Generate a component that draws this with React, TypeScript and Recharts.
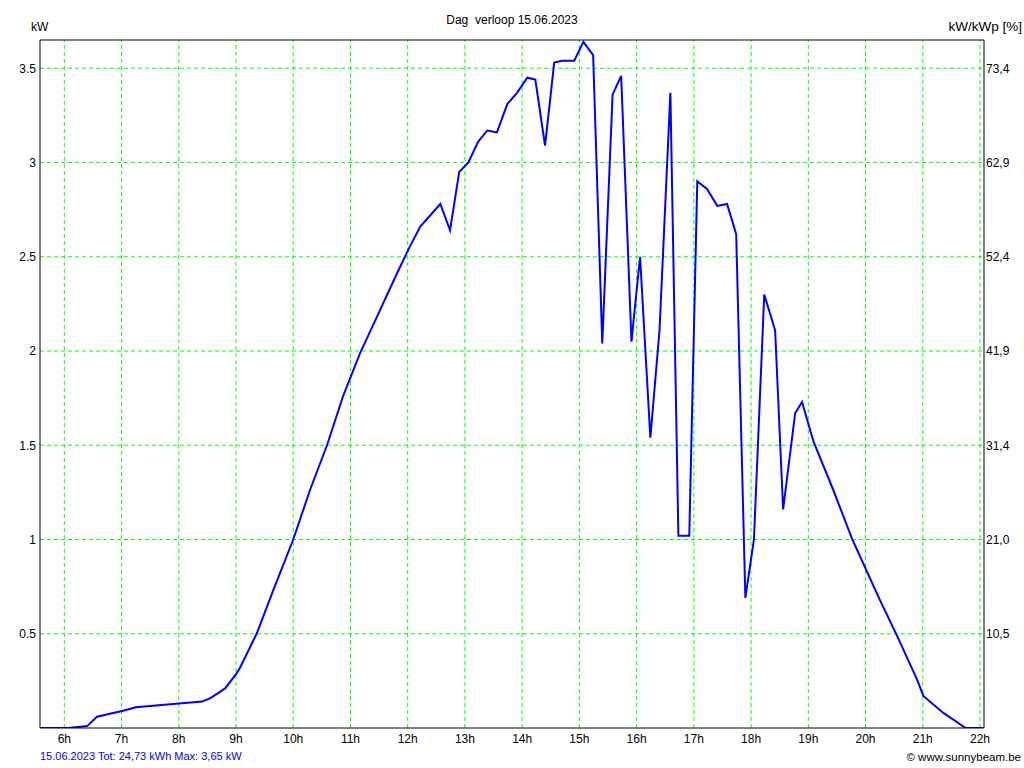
import { CartesianGrid, Line, LineChart, ReferenceLine, XAxis, YAxis } from "recharts";

// time of day in decimal hours, power in kW
const hours = [
  5.575, 6.07, 6.4, 6.57, 7.01, 7.25, 8.0, 8.41, 8.56, 8.81, 9.01, 9.07, 9.36, 9.65, 10.0, 10.29,
  10.59, 10.87, 11.17, 11.46, 11.81, 12.03, 12.22, 12.57, 12.74, 12.9, 13.06, 13.23, 13.39, 13.56,
  13.74, 13.91, 14.09, 14.23, 14.4, 14.56, 14.7, 14.91, 15.07, 15.24, 15.4, 15.58, 15.73, 15.91,
  16.06, 16.24, 16.4, 16.59, 16.73, 16.92, 17.06, 17.23, 17.41, 17.58, 17.74, 17.9, 18.05, 18.23,
  18.42, 18.56, 18.77, 18.89, 19.09, 19.44, 19.77, 20.25, 20.58, 20.91, 21.01, 21.36, 21.75, 22.07,
];
const kw = [
  0, 0, 0.01, 0.06, 0.09, 0.11, 0.13, 0.14, 0.16, 0.21, 0.29, 0.32, 0.5, 0.73, 1.0, 1.26,
  1.5, 1.76, 1.99, 2.18, 2.41, 2.55, 2.66, 2.78, 2.64, 2.95, 3.0, 3.11, 3.17, 3.16,
  3.31, 3.37, 3.45, 3.44, 3.09, 3.53, 3.54, 3.54, 3.64, 3.57, 2.04, 3.36, 3.46, 2.05,
  2.5, 1.54, 2.11, 3.37, 1.02, 1.02, 2.9, 2.86, 2.77, 2.78, 2.62, 0.69, 1.0, 2.3,
  2.11, 1.16, 1.67, 1.73, 1.52, 1.26, 1.0, 0.68, 0.47, 0.25, 0.17, 0.08, 0, 0,
];

const hourTicks = [6, 7, 8, 9, 10, 11, 12, 13, 14, 15, 16, 17, 18, 19, 20, 21, 22];
const kwTicks = [0.5, 1, 1.5, 2, 2.5, 3, 3.5];
const kwTickLabels = ["0.5", "1", "1.5", "2", "2.5", "3", "3.5"];
const pctTickLabels = ["10,5", "21,0", "31,4", "41,9", "52,4", "62,9", "73,4"];

const title = "Dag  verloop 15.06.2023";
const footer = "15.06.2023 Tot: 24,73 kWh Max: 3,65 kW";

const data = hours.map((h, i) => ({ h, kw: kw[i] }));

const tickStyle = { fill: "#000", fontSize: 12 };
const GRID = "#00ff00";

export default function App() {
  return (
    <div
      style={{
        position: "absolute",
        left: 0,
        top: 0,
        width: 1024,
        height: 768,
        background: "#fff",
        fontFamily: "'Liberation Sans', Arial, sans-serif",
      }}
    >
      <LineChart width={1024} height={768} data={data} margin={{ top: 40, right: 0, left: 0, bottom: 0 }}>
        <CartesianGrid stroke={GRID} strokeDasharray="4 3" yAxisId="left" vertical={false} horizontalValues={kwTicks} />
        {hourTicks.map((h) => (
          <ReferenceLine key={h} yAxisId="left" x={h} stroke={GRID} strokeDasharray="4 3" />
        ))}
        <XAxis
          dataKey="h"
          type="number"
          domain={[5.575, 22.07]}
          allowDataOverflow
          ticks={hourTicks}
          tickFormatter={(v) => `${v}h`}
          tick={tickStyle}
          tickSize={0}
          tickMargin={6}
          height={40}
          stroke="#000"
          interval={0}
        />
        <YAxis
          yAxisId="left"
          domain={[0, 3.65]}
          allowDataOverflow
          ticks={kwTicks}
          tickFormatter={(_, i) => kwTickLabels[i]}
          tick={tickStyle}
          tickSize={0}
          tickMargin={4}
          width={40}
          stroke="#000"
          interval={0}
        />
        <YAxis
          yAxisId="right"
          orientation="right"
          domain={[0, 3.65]}
          allowDataOverflow
          ticks={kwTicks}
          tickFormatter={(_, i) => pctTickLabels[i]}
          tick={tickStyle}
          tickSize={0}
          tickMargin={2}
          width={40}
          stroke="#000"
          interval={0}
        />
        <ReferenceLine yAxisId="left" y={3.65} stroke="#000" />
        <Line
          yAxisId="left"
          type="linear"
          dataKey="kw"
          stroke="#0000ff"
          strokeWidth={2}
          dot={false}
          isAnimationActive={false}
        />
      </LineChart>
      <div style={{ position: "absolute", left: 0, top: 13, width: 1024, textAlign: "center", fontSize: 12, whiteSpace: "pre" }}>
        {title}
      </div>
      <div style={{ position: "absolute", left: 31, top: 20, fontSize: 12 }}>kW</div>
      <div style={{ position: "absolute", right: 2, top: 19, fontSize: 13.5 }}>kW/kWp [%]</div>
      <div style={{ position: "absolute", left: 40, top: 750, fontSize: 11, color: "#0000ff" }}>{footer}</div>
      <div style={{ position: "absolute", right: 3, top: 751, fontSize: 11.5 }}>© www.sunnybeam.be</div>
    </div>
  );
}
